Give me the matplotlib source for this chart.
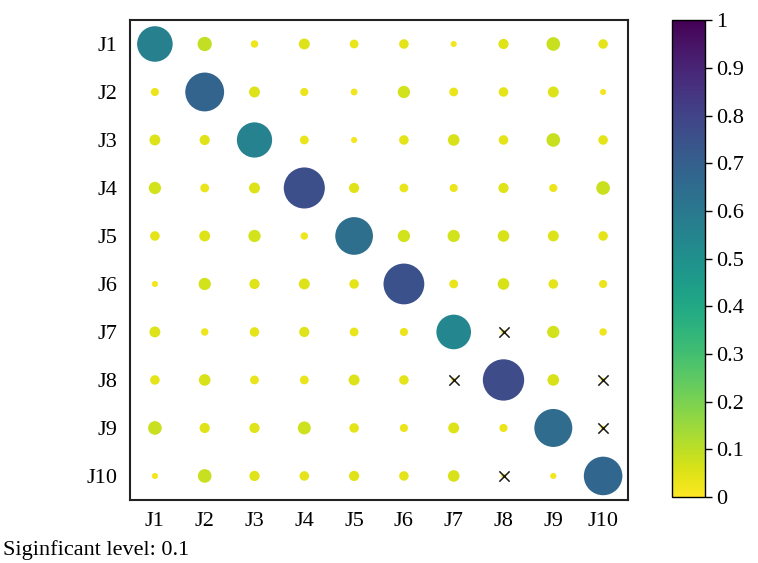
import matplotlib.pyplot as plt
import numpy as np

plt.rcParams['font.family'] = ['Liberation Serif', 'DejaVu Serif']
plt.rcParams['font.size'] = 16

labels = ['J1', 'J2', 'J3', 'J4', 'J5', 'J6', 'J7', 'J8', 'J9', 'J10']

# correlation strength, row = J1..J10, column = J1..J10
corr = np.array([
    [0.57, 0.092, 0.025, 0.054, 0.035, 0.041, 0.017, 0.047, 0.084, 0.041],
    [0.030, 0.68, 0.054, 0.030, 0.021, 0.068, 0.035, 0.041, 0.054, 0.017],
    [0.054, 0.047, 0.56, 0.035, 0.017, 0.041, 0.061, 0.041, 0.084, 0.041],
    [0.068, 0.035, 0.054, 0.76, 0.047, 0.035, 0.030, 0.047, 0.030, 0.084],
    [0.041, 0.054, 0.068, 0.025, 0.64, 0.068, 0.068, 0.061, 0.054, 0.041],
    [0.017, 0.068, 0.047, 0.054, 0.041, 0.75, 0.035, 0.061, 0.041, 0.030],
    [0.054, 0.025, 0.041, 0.047, 0.035, 0.030, 0.54, 0.010, 0.068, 0.025],
    [0.041, 0.061, 0.035, 0.035, 0.054, 0.041, 0.010, 0.77, 0.061, 0.010],
    [0.084, 0.047, 0.047, 0.076, 0.041, 0.030, 0.054, 0.030, 0.65, 0.010],
    [0.017, 0.084, 0.047, 0.041, 0.047, 0.041, 0.061, 0.010, 0.017, 0.67],
])

# pairs (row, column) not significant at the 0.1 level
insignificant_rows = [6, 7, 7, 8, 9]
insignificant_cols = [7, 6, 9, 9, 7]

fig = plt.figure(figsize=(7.58, 5.63), dpi=100)
ax = fig.add_axes([0.1715, 0.112, 0.657, 0.8525])
cax = fig.add_axes([0.8865, 0.117, 0.0435, 0.847])

n = len(labels)
cols, rows = np.meshgrid(np.arange(n), np.arange(n))
sc = ax.scatter(cols.ravel(), rows.ravel(), s=corr.ravel() * 1150,
                c=corr.ravel(), cmap='viridis_r', vmin=0, vmax=1,
                linewidths=0, zorder=2)
ax.scatter(insignificant_cols, insignificant_rows, marker='x', s=55,
           color='#1a1a1a', linewidths=1.1, zorder=3)

ax.set_xlim(-0.5, n - 0.5)
ax.set_ylim(n - 0.5, -0.5)
ax.set_xticks(np.arange(n))
ax.set_yticks(np.arange(n))
ax.set_xticklabels(labels)
ax.set_yticklabels(labels)
ax.tick_params(length=0, pad=9)
for sp in ax.spines.values():
    sp.set_linewidth(1.5)
    sp.set_color('#222222')

cb = fig.colorbar(sc, cax=cax)
cb.set_ticks(np.arange(0, 1.01, 0.1))
cb.set_ticklabels(['0', '0.1', '0.2', '0.3', '0.4', '0.5', '0.6', '0.7',
                   '0.8', '0.9', '1'])
cb.ax.tick_params(length=5, width=1, pad=3)
cb.outline.set_linewidth(1)

fig.text(0.004, 0.006, 'Siginficant level: 0.1', ha='left', va='bottom')

fig.savefig('out.png', dpi=100)
